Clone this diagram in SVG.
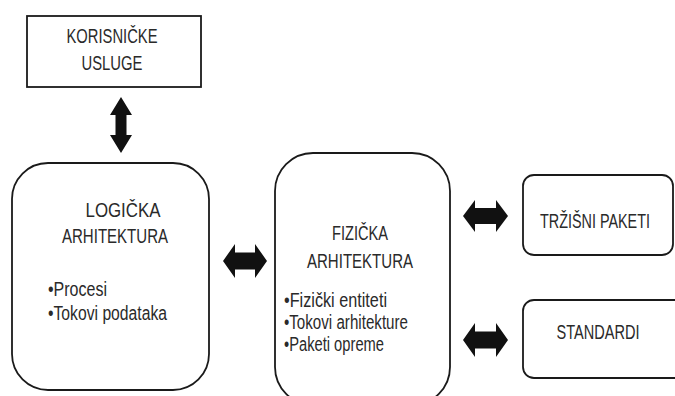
<svg xmlns="http://www.w3.org/2000/svg" width="675" height="396" viewBox="0 0 675 396">
<style>
.box{fill:#fff;stroke:#1a1a1a;stroke-width:1.8}
.t{font-family:"Liberation Sans Narrow","Liberation Sans",Arial,sans-serif;font-size:20px;fill:#2a2a2a}
.c{text-anchor:middle}
.arr{fill:#111}
</style>
<rect width="675" height="396" fill="#fff"/>
<g id="korisnicke-usluge">
<rect class="box" x="27" y="16" width="174" height="71"/>
<text class="t c" x="112" y="43" textLength="91" lengthAdjust="spacingAndGlyphs">KORISNIČKE</text>
<text class="t c" x="112" y="70" textLength="61" lengthAdjust="spacingAndGlyphs">USLUGE</text>
</g>
<g id="logicka-arhitektura">
<rect class="box" x="12" y="163" width="197" height="227" rx="36"/>
<text class="t c" x="123" y="217" textLength="75" lengthAdjust="spacingAndGlyphs">LOGIČKA</text>
<text class="t c" x="115" y="243" textLength="106" lengthAdjust="spacingAndGlyphs">ARHITEKTURA</text>
<text class="t" x="48" y="296" textLength="59" lengthAdjust="spacingAndGlyphs">•Procesi</text>
<text class="t" x="48" y="320" textLength="119" lengthAdjust="spacingAndGlyphs">•Tokovi podataka</text>
</g>
<g id="fizicka-arhitektura">
<rect class="box" x="275" y="153" width="175" height="252" rx="38"/>
<text class="t c" x="360" y="240" textLength="56" lengthAdjust="spacingAndGlyphs">FIZIČKA</text>
<text class="t c" x="360" y="268" textLength="106" lengthAdjust="spacingAndGlyphs">ARHITEKTURA</text>
<text class="t" x="284" y="307" textLength="103" lengthAdjust="spacingAndGlyphs">•Fizički entiteti</text>
<text class="t" x="284" y="329" textLength="124" lengthAdjust="spacingAndGlyphs">•Tokovi arhitekture</text>
<text class="t" x="284" y="351" textLength="100" lengthAdjust="spacingAndGlyphs">•Paketi opreme</text>
</g>
<g id="trzisni-paketi">
<rect class="box" x="523" y="175" width="150" height="80" rx="11"/>
<text class="t c" x="595" y="228" font-size="19" textLength="110" lengthAdjust="spacingAndGlyphs">TRŽIŠNI PAKETI</text>
</g>
<g id="standardi">
<rect class="box" x="523" y="300" width="170" height="78" rx="11"/>
<text class="t c" x="598" y="339" textLength="83" lengthAdjust="spacingAndGlyphs">STANDARDI</text>
</g>
<g id="connectors">
<polygon class="arr" points="121,97 132,115 126.5,115 126.5,135 132,135 121,153 110,135 115.5,135 115.5,115 110,115"/>
<polygon class="arr" points="223,261 235,244 235,252.5 255,252.5 255,244 267,261 255,278 255,269.5 235,269.5 235,278"/>
<polygon class="arr" points="463,216 475,200 475,208 496,208 496,200 508,216 496,232 496,224 475,224 475,232"/>
<polygon class="arr" points="463,340 475,323 475,331.5 496,331.5 496,323 508,340 496,357 496,348.5 475,348.5 475,357"/>
</g>
</svg>
